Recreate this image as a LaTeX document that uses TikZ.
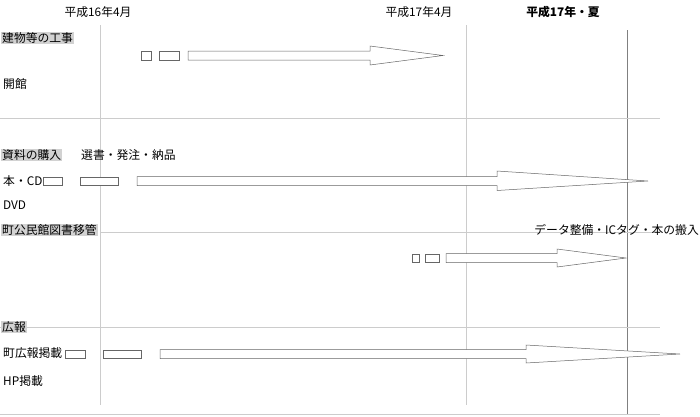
\documentclass[tikz,border=0pt]{standalone}
\usepackage{fontspec}
\setmainfont{Liberation Sans}
\newfontfamily\jp{Noto Sans CJK JP}
\begin{document}
\begin{tikzpicture}[x=1pt,y=-1pt,
 lbl/.style={anchor=west,font=\jp\fontsize{11.8}{13}\selectfont,inner sep=1pt},
 hl/.style={lbl,fill=gray!35},
 grid/.style={draw=gray!40,line width=0.6pt},
 box/.style={draw=gray!80!black,line width=0.5pt,fill=white}]
\useasboundingbox (0,0) rectangle (700,416);
\draw[grid] (100,25)--(100,405);
\draw[grid] (466,25)--(466,405);
\draw[draw=gray,line width=0.7pt] (627,30)--(627,414);
\draw[grid] (0,118)--(660,118);
\draw[grid] (100,232)--(660,232);
\draw[grid] (0,327)--(660,327);
\draw[grid] (0,414)--(660,414);
\node[lbl,anchor=center] (t1) at (98,12) {平成16年4月};
\node[lbl,anchor=center] (t2) at (419,12) {平成17年4月};
\node[lbl,anchor=center,font=\jp\bfseries\fontsize{11.8}{13}\selectfont] (t3) at (563,12) {平成17年・夏};
\node[hl] (a) at (1,38) {建物等の工事};
\node[lbl] (b) at (2,84) {開館};
\node[hl] (c) at (1,155) {資料の購入};
\node[lbl] (d) at (80,155) {選書・発注・納品};
\node[lbl] (e) at (2,181) {本・CD};
\node[lbl] (f) at (2,205) {DVD};
\node[hl] (g) at (1,230) {町公民館図書移管};
\node[lbl,anchor=east] (h) at (700,230) {データ整備・ICタグ・本の搬入};
\node[hl] (i) at (1,327) {広報};
\node[lbl] (j) at (2,353) {町広報掲載};
\node[lbl] (k) at (2,381) {HP掲載};
% row 1
\draw[box] (141,51) rectangle (151,60);
\draw[box] (159,51) rectangle (179,60);
\draw[box] (188,51)--(370,51)--(370,46)--(443,55.5)--(370,65)--(370,60)--(188,60)--cycle;
% row 2
\draw[box] (43,177) rectangle (62,185);
\draw[box] (80,177) rectangle (118,185);
\draw[box] (137,176.5)--(497,176.5)--(497,171)--(648,181)--(497,190.5)--(497,185.5)--(137,185.5)--cycle;
% row 3
\draw[box] (412,254) rectangle (419,262);
\draw[box] (425,254) rectangle (439,262);
\draw[box] (446,253.5)--(557,253.5)--(557,249)--(626,258)--(557,267)--(557,262.5)--(446,262.5)--cycle;
% row 4
\draw[box] (65,350) rectangle (85,358);
\draw[box] (103,350) rectangle (141,358);
\draw[box] (160,349.5)--(526,349.5)--(526,345)--(680,354)--(526,363)--(526,358.5)--(160,358.5)--cycle;
\end{tikzpicture}
\end{document}
